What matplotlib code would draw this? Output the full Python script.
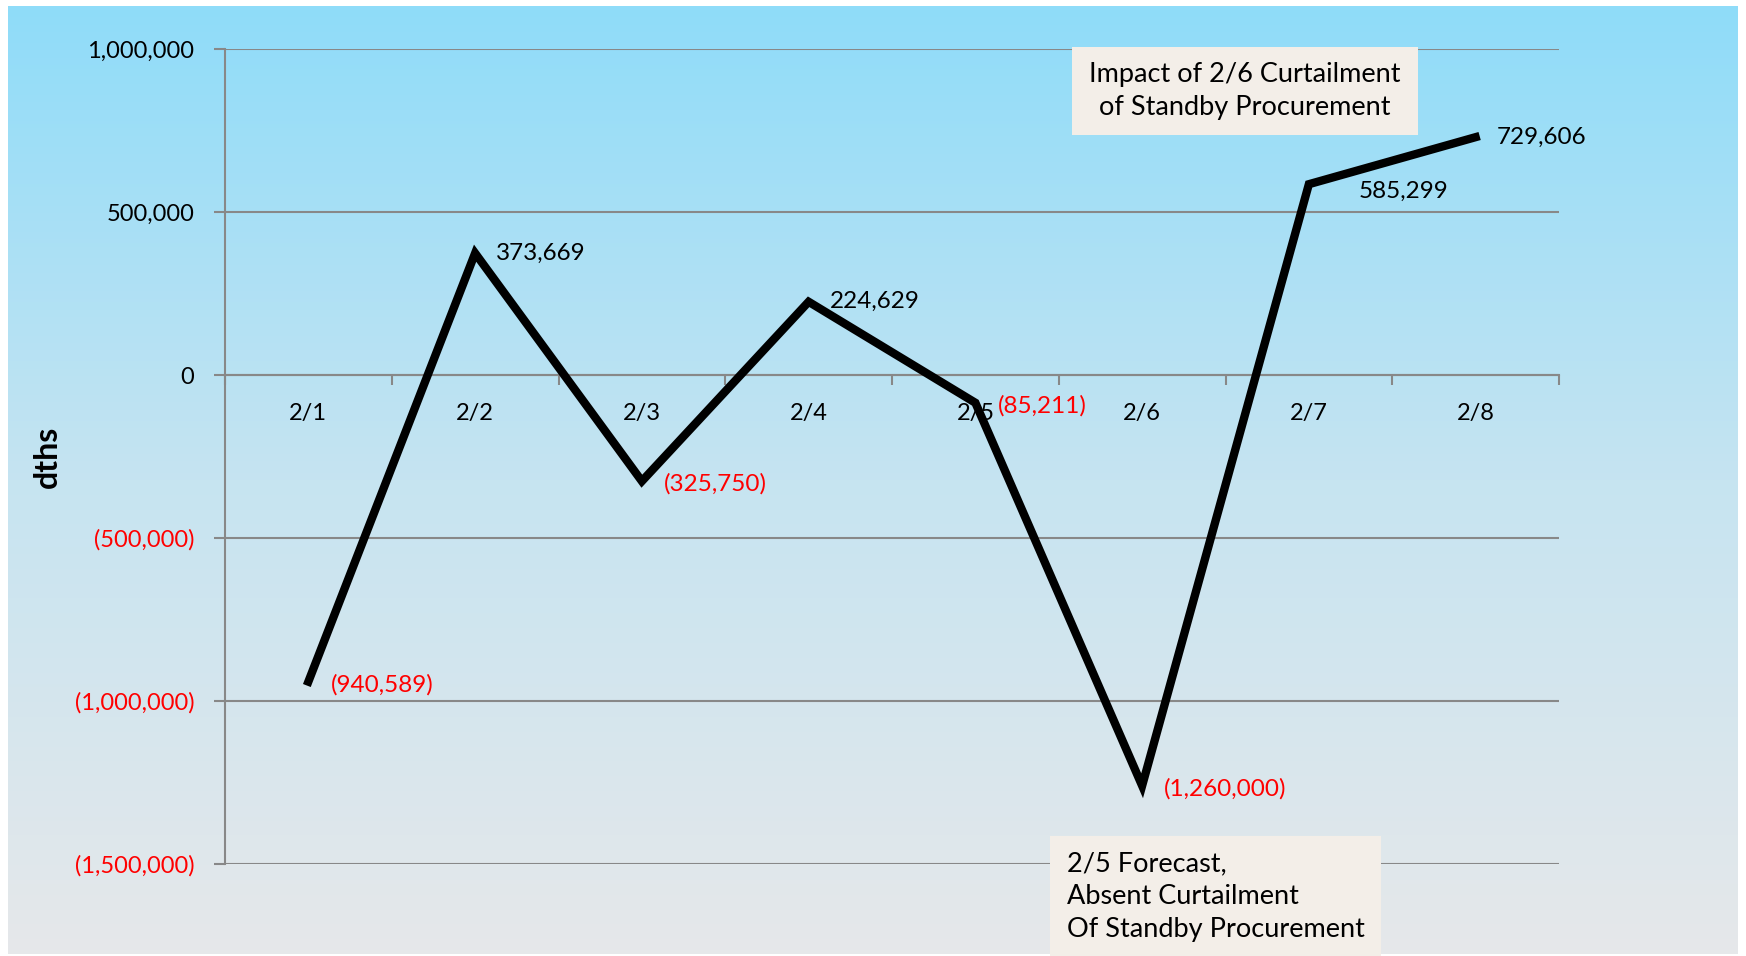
import numpy as np
import matplotlib.pyplot as plt
from matplotlib.colors import LinearSegmentedColormap
from matplotlib.patches import Rectangle

plt.rcParams['font.family'] = ['Lato', 'DejaVu Sans']

dates = ['2/1', '2/2', '2/3', '2/4', '2/5', '2/6', '2/7', '2/8']
values = [-940589, 373669, -325750, 224629, -85211, -1260000, 585299, 729606]
yticks = [-1500000, -1000000, -500000, 0, 500000, 1000000]
# label offsets in points (dx, dy)
offsets = [(16, -2), (15, 0), (16, -2), (15, 0), (16, -2), (16, -2), (36, -5), (15, 0)]

W, H = 1746, 956
fig = plt.figure(figsize=(W / 100, H / 100), dpi=100, facecolor='white')

# gradient background panel
bg = fig.add_axes([8 / W, 2 / H, 1730 / W, 948 / H])
cmap = LinearSegmentedColormap.from_list('bg', ['#8fdcf9', '#c6e4f1', '#e6e8ea'])
grad = np.linspace(0, 1, 256).reshape(-1, 1)
bg.imshow(grad, aspect='auto', cmap=cmap, extent=[0, 1, 0, 1], origin='upper')
bg.axis('off')

ax = fig.add_axes([225 / W, 1 - 864 / H, 1334 / W, 815 / H])
ax.set_facecolor('none')
x = np.arange(len(dates))
ax.plot(x, values, color='black', lw=6, solid_joinstyle='miter', zorder=5)

ax.set_xlim(-0.5, len(dates) - 0.5)
ax.set_ylim(-1500000, 1000000)

for s in ['top', 'right']:
    ax.spines[s].set_visible(False)
ax.spines['bottom'].set_position(('data', 0))
ax.spines['bottom'].set_color('#888888')
ax.spines['bottom'].set_linewidth(1.5)
ax.spines['left'].set_color('#888888')
ax.spines['left'].set_linewidth(1.5)

ax.set_yticks(yticks)
ylabels = []
for v in yticks:
    ylabels.append('({:,})'.format(-v) if v < 0 else '{:,}'.format(v))
ax.set_yticklabels(ylabels, fontsize=17)
for t, v in zip(ax.get_yticklabels(), yticks):
    t.set_color('red' if v < 0 else 'black')
ax.tick_params(axis='y', length=8, width=1.5, color='#888888', pad=14)
ax.yaxis.grid(True, color='#888888', lw=1.5)
ax.set_axisbelow(True)

ax.set_xticks(x)
ax.set_xticklabels(dates, fontsize=17)
ax.set_xticks(np.arange(len(dates) + 1) - 0.5, minor=True)
ax.tick_params(axis='x', which='major', length=0, pad=20)
ax.tick_params(axis='x', which='minor', length=7, width=1.5, color='#888888', direction='out')

ax.set_ylabel('dths', fontsize=23, fontweight='bold')
ax.yaxis.set_label_coords(-0.122, 0.5)

for xi, v, (dx, dy) in zip(x, values, offsets):
    txt = '({:,})'.format(-v) if v < 0 else '{:,}'.format(v)
    ax.annotate(txt, (xi, v), xytext=(dx, dy), textcoords='offset points',
                fontsize=17.5, color='red' if v < 0 else 'black',
                ha='left', va='center', zorder=6)

# note boxes
fig.patches.append(Rectangle((1072 / W, 1 - 135 / H), 346 / W, 88 / H,
                             transform=fig.transFigure, facecolor='#f3eee8',
                             edgecolor='none', zorder=3))
fig.text(1245 / W, 1 - 91 / H, 'Impact of 2/6 Curtailment\nof Standby Procurement',
         fontsize=19.5, ha='center', va='center', linespacing=1.4, zorder=4)
fig.patches.append(Rectangle((1050 / W, 0), 331 / W, 120 / H,
                             transform=fig.transFigure, facecolor='#f3eee8',
                             edgecolor='none', zorder=3))
fig.text(1067 / W, 1 - 897 / H, '2/5 Forecast,\nAbsent Curtailment\nOf Standby Procurement',
         fontsize=19.5, ha='left', va='center', linespacing=1.4, zorder=4)

fig.savefig('out.png', dpi=100, facecolor='white')
